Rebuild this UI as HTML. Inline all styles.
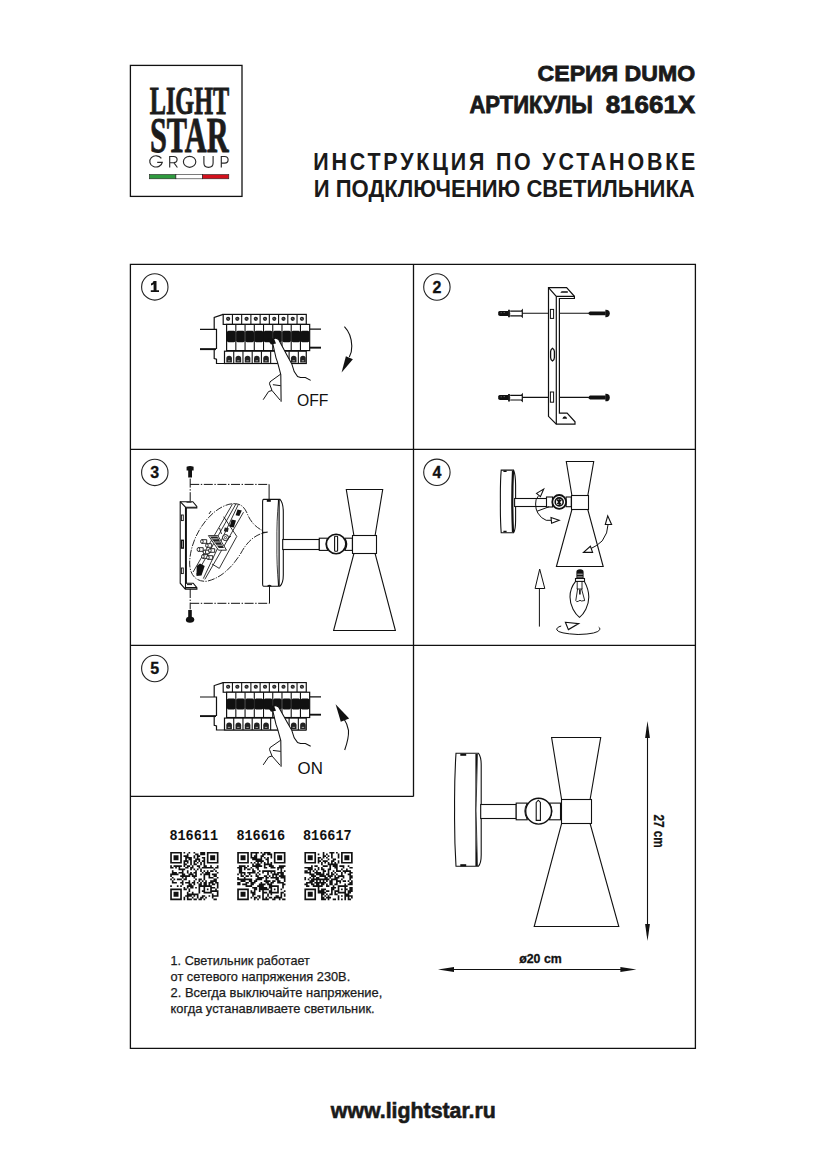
<!DOCTYPE html>
<html><head><meta charset="utf-8">
<style>
html,body{margin:0;padding:0;background:#fff;}
body{width:826px;height:1169px;position:relative;overflow:hidden;font-family:"Liberation Sans",sans-serif;}
svg{position:absolute;left:0;top:0;}

</style></head><body>
<svg width="826" height="1169" viewBox="0 0 826 1169">
<g fill="#1a1a1a" font-family="Liberation Sans" font-weight="bold">
<text x="695.1" y="81.4" font-size="22.6" stroke="#1a1a1a" stroke-width="0.8" text-anchor="end" textLength="157.5" lengthAdjust="spacingAndGlyphs">СЕРИЯ DUMO</text>
<text x="469.4" y="113.2" font-size="23" stroke="#1a1a1a" stroke-width="0.8" textLength="123.4" lengthAdjust="spacingAndGlyphs">АРТИКУЛЫ</text><text x="605.7" y="113.2" font-size="23" stroke="#1a1a1a" stroke-width="0.8" textLength="89.5" lengthAdjust="spacingAndGlyphs">81661X</text>
<text transform="translate(313.2 169.6) scale(0.9 1)" x="0" y="0" font-size="23.8" textLength="424.6" lengthAdjust="spacing">ИНСТРУКЦИЯ ПО УСТАНОВКЕ</text>
<text x="313.8" y="196.8" font-size="23.8" textLength="381" lengthAdjust="spacingAndGlyphs">И ПОДКЛЮЧЕНИЮ СВЕТИЛЬНИКА</text>
<text x="330.8" y="1117.7" font-size="21.6" stroke="#1a1a1a" stroke-width="0.6" textLength="165" lengthAdjust="spacingAndGlyphs">www.lightstar.ru</text>
</g>
<g fill="none" stroke="#111" stroke-width="1.3">
<rect x="130.4" y="65.4" width="111.6" height="131"/>
<path d="M130.4 264.4H695.4V1048.4H130.4Z"/>
<path d="M413.5 264.4V796.4M130.4 449.4H695.4M130.4 645.4H695.4M130.4 796.4H413.5"/>
</g>
<g fill="#1c1c1c">
<text x="149.8" y="114.2" font-family="Liberation Serif" font-weight="bold" font-size="39" textLength="79.4" lengthAdjust="spacingAndGlyphs" stroke="#1c1c1c" stroke-width="0.9">LIGHT</text>
<text x="150" y="151.5" font-family="Liberation Serif" font-weight="bold" font-size="51" textLength="78.5" lengthAdjust="spacingAndGlyphs" stroke="#1c1c1c" stroke-width="0.9">STAR</text>
<g fill="none" stroke="#2a2a2a" stroke-width="1.15"><path d="M161.4 158.4A6.3 5.6 0 1 0 162.3 162.3H157.2"/><path d="M169.7 167.5V156.5H173.6Q177.1 156.5 177.1 159.6Q177.1 162.7 173.6 162.7H169.7M173.8 162.7L177.4 167.5"/><ellipse cx="189.6" cy="161.8" rx="6.2" ry="5.5"/><path d="M203.9 156V163Q203.9 167.3 208.5 167.3Q213.1 167.3 213.1 163V156"/><path d="M221.3 167.5V156.5H224.6Q228.1 156.5 228.1 159.8Q228.1 163.1 224.6 163.1H221.3"/></g>
</g>
<rect x="149.4" y="174.5" width="26.5" height="4.3" fill="#2e9a3e" stroke="#222" stroke-width="0.6"/>
<rect x="175.9" y="174.5" width="26.5" height="4.3" fill="#fff" stroke="#222" stroke-width="0.6"/>
<rect x="202.4" y="174.5" width="26.4" height="4.3" fill="#d3101c" stroke="#222" stroke-width="0.6"/>
<circle cx="154.8" cy="286.9" r="13.2" fill="none" stroke="#222" stroke-width="1.1"/>
<path d="M153.60000000000002 281.09999999999997H156.5V290.2H159.0V292.0H150.8V290.2H153.60000000000002V284.29999999999995Q152.3 285.29999999999995 151.0 285.4V283.59999999999997Q152.8 283.09999999999997 153.60000000000002 281.09999999999997Z" fill="#111"/>
<circle cx="436.9" cy="287.0" r="13.2" fill="none" stroke="#222" stroke-width="1.1"/>
<text x="436.9" y="292.5" text-anchor="middle" font-family="Liberation Sans" font-weight="bold" font-size="16" fill="#111" stroke="#111" stroke-width="0.3">2</text>
<circle cx="154.8" cy="472.4" r="13.2" fill="none" stroke="#222" stroke-width="1.1"/>
<text x="154.8" y="477.9" text-anchor="middle" font-family="Liberation Sans" font-weight="bold" font-size="16" fill="#111" stroke="#111" stroke-width="0.3">3</text>
<circle cx="436.9" cy="472.3" r="13.2" fill="none" stroke="#222" stroke-width="1.1"/>
<text x="436.9" y="477.8" text-anchor="middle" font-family="Liberation Sans" font-weight="bold" font-size="16" fill="#111" stroke="#111" stroke-width="0.3">4</text>
<circle cx="154.8" cy="668.5" r="13.2" fill="none" stroke="#222" stroke-width="1.1"/>
<text x="154.8" y="674.0" text-anchor="middle" font-family="Liberation Sans" font-weight="bold" font-size="16" fill="#111" stroke="#111" stroke-width="0.3">5</text>
<g transform="translate(0,0) translate(0,314) scale(1,1.0) translate(0,-314)"><path d="M200 329.3H216.5V349.1M200 349.2H216" fill="none" stroke="#111" stroke-width="1.2"/><path d="M200 349.2H216" fill="none" stroke="#111" stroke-width="1.8"/><path d="M309.7 329.2H321M309.7 347.6H321" fill="none" stroke="#111" stroke-width="1.2"/><path d="M309.7 347.6H321" fill="none" stroke="#111" stroke-width="1.8"/><path d="M223.2 314.4L214.2 317.5V329.3M214.2 349.3V358.6L216.5 359.3V363.5H306" fill="none" stroke="#111" stroke-width="1.2"/><rect x="223.2" y="314.4" width="83.07" height="10" fill="#fff" stroke="#111" stroke-width="1.2"/><path d="M232.43 314.4V324.4" stroke="#111" stroke-width="1.1"/><path d="M241.66 314.4V324.4" stroke="#111" stroke-width="1.1"/><path d="M250.89 314.4V324.4" stroke="#111" stroke-width="1.1"/><path d="M260.12 314.4V324.4" stroke="#111" stroke-width="1.1"/><path d="M269.35 314.4V324.4" stroke="#111" stroke-width="1.1"/><path d="M278.58 314.4V324.4" stroke="#111" stroke-width="1.1"/><path d="M287.81 314.4V324.4" stroke="#111" stroke-width="1.1"/><path d="M297.04 314.4V324.4" stroke="#111" stroke-width="1.1"/><circle cx="228.12" cy="318.8" r="2.1" fill="#222"/><path d="M227.22 318.3L229.01 319.3" stroke="#bbb" stroke-width="0.6"/><circle cx="237.34" cy="318.8" r="2.1" fill="#222"/><path d="M236.44 318.3L238.24 319.3" stroke="#bbb" stroke-width="0.6"/><circle cx="246.58" cy="318.8" r="2.1" fill="#222"/><path d="M245.68 318.3L247.47 319.3" stroke="#bbb" stroke-width="0.6"/><circle cx="255.81" cy="318.8" r="2.1" fill="#222"/><path d="M254.91 318.3L256.70 319.3" stroke="#bbb" stroke-width="0.6"/><circle cx="265.04" cy="318.8" r="2.1" fill="#222"/><path d="M264.13 318.3L265.94 319.3" stroke="#bbb" stroke-width="0.6"/><circle cx="274.27" cy="318.8" r="2.1" fill="#222"/><path d="M273.37 318.3L275.17 319.3" stroke="#bbb" stroke-width="0.6"/><circle cx="283.50" cy="318.8" r="2.1" fill="#222"/><path d="M282.59 318.3L284.39 319.3" stroke="#bbb" stroke-width="0.6"/><circle cx="292.73" cy="318.8" r="2.1" fill="#222"/><path d="M291.82 318.3L293.62 319.3" stroke="#bbb" stroke-width="0.6"/><circle cx="301.95" cy="318.8" r="2.1" fill="#222"/><path d="M301.05 318.3L302.85 319.3" stroke="#bbb" stroke-width="0.6"/><rect x="226.6" y="324.4" width="83.07" height="26.2" fill="#fff" stroke="#111" stroke-width="1.2"/><path d="M235.83 324.4V350.6" stroke="#111" stroke-width="1.1"/><path d="M245.06 324.4V350.6" stroke="#111" stroke-width="1.1"/><path d="M254.29 324.4V350.6" stroke="#111" stroke-width="1.1"/><path d="M263.52 324.4V350.6" stroke="#111" stroke-width="1.1"/><path d="M272.75 324.4V350.6" stroke="#111" stroke-width="1.1"/><path d="M281.98 324.4V350.6" stroke="#111" stroke-width="1.1"/><path d="M291.21 324.4V350.6" stroke="#111" stroke-width="1.1"/><path d="M300.44 324.4V350.6" stroke="#111" stroke-width="1.1"/><rect x="226.90" y="330.8" width="8.63" height="11.4" rx="1.6" fill="#111"/><rect x="236.13" y="330.8" width="8.63" height="11.4" rx="1.6" fill="#111"/><rect x="245.36" y="330.8" width="8.63" height="11.4" rx="1.6" fill="#111"/><rect x="254.59" y="330.8" width="8.63" height="11.4" rx="1.6" fill="#111"/><rect x="263.82" y="330.8" width="8.63" height="11.4" rx="1.6" fill="#111"/><rect x="273.05" y="330.8" width="8.63" height="11.4" rx="1.6" fill="#111"/><rect x="282.28" y="330.8" width="8.63" height="11.4" rx="1.6" fill="#111"/><rect x="291.51" y="330.8" width="8.63" height="11.4" rx="1.6" fill="#111"/><rect x="300.74" y="330.8" width="8.63" height="11.4" rx="1.6" fill="#111"/><path d="M227 332.5L229 331.5V341L227 340Z" fill="#111"/><rect x="224.5" y="351.2" width="81.77" height="12.3" fill="#fff" stroke="#111" stroke-width="1.2"/><path d="M233.73 351.2V363.5" stroke="#111" stroke-width="1.1"/><path d="M242.96 351.2V363.5" stroke="#111" stroke-width="1.1"/><path d="M252.19 351.2V363.5" stroke="#111" stroke-width="1.1"/><path d="M261.42 351.2V363.5" stroke="#111" stroke-width="1.1"/><path d="M270.65 351.2V363.5" stroke="#111" stroke-width="1.1"/><path d="M279.88 351.2V363.5" stroke="#111" stroke-width="1.1"/><path d="M289.11 351.2V363.5" stroke="#111" stroke-width="1.1"/><path d="M298.34 351.2V363.5" stroke="#111" stroke-width="1.1"/><path d="M226.31 362.6V358.6A2.8 2.8 0 0 1 231.92 358.6V362.6Z" fill="#222"/><path d="M227.92 360.8H230.31" stroke="#fff" stroke-width="0.6"/><path d="M235.54 362.6V358.6A2.8 2.8 0 0 1 241.15 358.6V362.6Z" fill="#222"/><path d="M237.15 360.8H239.54" stroke="#fff" stroke-width="0.6"/><path d="M244.78 362.6V358.6A2.8 2.8 0 0 1 250.38 358.6V362.6Z" fill="#222"/><path d="M246.38 360.8H248.78" stroke="#fff" stroke-width="0.6"/><path d="M254.00 362.6V358.6A2.8 2.8 0 0 1 259.61 358.6V362.6Z" fill="#222"/><path d="M255.61 360.8H258.00" stroke="#fff" stroke-width="0.6"/><path d="M263.24 362.6V358.6A2.8 2.8 0 0 1 268.84 358.6V362.6Z" fill="#222"/><path d="M264.84 360.8H267.24" stroke="#fff" stroke-width="0.6"/><path d="M290.93 362.6V358.6A2.8 2.8 0 0 1 296.53 358.6V362.6Z" fill="#222"/><path d="M292.53 360.8H294.93" stroke="#fff" stroke-width="0.6"/><path d="M300.16 362.6V358.6A2.8 2.8 0 0 1 305.76 358.6V362.6Z" fill="#222"/><path d="M301.76 360.8H304.16" stroke="#fff" stroke-width="0.6"/><path d="M272.4 342.6Q272.5 338 276 338.3Q279.2 339 280.2 342.6L287 355.2L291.8 363.9L294.2 371.6L297.6 376.5L300.5 377.5H305.4L310.7 380.4L306 395L285 405L262 403L263 395L268.6 391.5L272 390.5L269.5 383.8L270 381.8L280.7 374.1L277.5 362.1L276 357.8L274.1 349.5Z" fill="#fff" stroke="none"/><path d="M267.6 339.5Q270 337.5 274 338.5L276 343.5L271 344.5Z" fill="#111"/><path d="M272.4 342.6Q272.5 338 276 338.3Q279.2 339 280.2 342.6L287 355.2L291.8 363.9L294.2 371.6L297.6 376.5L300.5 377.5H305.4L310.7 380.4" fill="none" stroke="#111" stroke-width="1.05"/><path d="M272.6 342.6L274.1 349.5L276 357.8L277.5 362.1L280.8 374.5L281.1 401.7" fill="none" stroke="#111" stroke-width="1.05"/><path d="M280.7 374.1L270 381.8L269.5 383.8L272 390.5L280.2 400.2M272 390.5L268.6 391.5L263.2 399.7M272.9 384.7L280.7 385.7" fill="none" stroke="#111" stroke-width="1.0"/></g>
<g transform="translate(0,368.2) translate(0,314) scale(1,0.965) translate(0,-314)"><path d="M200 329.3H216.5V349.1M200 349.2H216" fill="none" stroke="#111" stroke-width="1.2"/><path d="M200 349.2H216" fill="none" stroke="#111" stroke-width="1.8"/><path d="M309.7 329.2H321M309.7 347.6H321" fill="none" stroke="#111" stroke-width="1.2"/><path d="M309.7 347.6H321" fill="none" stroke="#111" stroke-width="1.8"/><path d="M223.2 314.4L214.2 317.5V329.3M214.2 349.3V358.6L216.5 359.3V363.5H306" fill="none" stroke="#111" stroke-width="1.2"/><rect x="223.2" y="314.4" width="83.07" height="10" fill="#fff" stroke="#111" stroke-width="1.2"/><path d="M232.43 314.4V324.4" stroke="#111" stroke-width="1.1"/><path d="M241.66 314.4V324.4" stroke="#111" stroke-width="1.1"/><path d="M250.89 314.4V324.4" stroke="#111" stroke-width="1.1"/><path d="M260.12 314.4V324.4" stroke="#111" stroke-width="1.1"/><path d="M269.35 314.4V324.4" stroke="#111" stroke-width="1.1"/><path d="M278.58 314.4V324.4" stroke="#111" stroke-width="1.1"/><path d="M287.81 314.4V324.4" stroke="#111" stroke-width="1.1"/><path d="M297.04 314.4V324.4" stroke="#111" stroke-width="1.1"/><circle cx="228.12" cy="318.8" r="2.1" fill="#222"/><path d="M227.22 318.3L229.01 319.3" stroke="#bbb" stroke-width="0.6"/><circle cx="237.34" cy="318.8" r="2.1" fill="#222"/><path d="M236.44 318.3L238.24 319.3" stroke="#bbb" stroke-width="0.6"/><circle cx="246.58" cy="318.8" r="2.1" fill="#222"/><path d="M245.68 318.3L247.47 319.3" stroke="#bbb" stroke-width="0.6"/><circle cx="255.81" cy="318.8" r="2.1" fill="#222"/><path d="M254.91 318.3L256.70 319.3" stroke="#bbb" stroke-width="0.6"/><circle cx="265.04" cy="318.8" r="2.1" fill="#222"/><path d="M264.13 318.3L265.94 319.3" stroke="#bbb" stroke-width="0.6"/><circle cx="274.27" cy="318.8" r="2.1" fill="#222"/><path d="M273.37 318.3L275.17 319.3" stroke="#bbb" stroke-width="0.6"/><circle cx="283.50" cy="318.8" r="2.1" fill="#222"/><path d="M282.59 318.3L284.39 319.3" stroke="#bbb" stroke-width="0.6"/><circle cx="292.73" cy="318.8" r="2.1" fill="#222"/><path d="M291.82 318.3L293.62 319.3" stroke="#bbb" stroke-width="0.6"/><circle cx="301.95" cy="318.8" r="2.1" fill="#222"/><path d="M301.05 318.3L302.85 319.3" stroke="#bbb" stroke-width="0.6"/><rect x="226.6" y="324.4" width="83.07" height="26.2" fill="#fff" stroke="#111" stroke-width="1.2"/><path d="M235.83 324.4V350.6" stroke="#111" stroke-width="1.1"/><path d="M245.06 324.4V350.6" stroke="#111" stroke-width="1.1"/><path d="M254.29 324.4V350.6" stroke="#111" stroke-width="1.1"/><path d="M263.52 324.4V350.6" stroke="#111" stroke-width="1.1"/><path d="M272.75 324.4V350.6" stroke="#111" stroke-width="1.1"/><path d="M281.98 324.4V350.6" stroke="#111" stroke-width="1.1"/><path d="M291.21 324.4V350.6" stroke="#111" stroke-width="1.1"/><path d="M300.44 324.4V350.6" stroke="#111" stroke-width="1.1"/><rect x="226.90" y="330.8" width="8.63" height="11.4" rx="1.6" fill="#111"/><rect x="236.13" y="330.8" width="8.63" height="11.4" rx="1.6" fill="#111"/><rect x="245.36" y="330.8" width="8.63" height="11.4" rx="1.6" fill="#111"/><rect x="254.59" y="330.8" width="8.63" height="11.4" rx="1.6" fill="#111"/><rect x="263.82" y="330.8" width="8.63" height="11.4" rx="1.6" fill="#111"/><rect x="273.05" y="330.8" width="8.63" height="11.4" rx="1.6" fill="#111"/><rect x="282.28" y="330.8" width="8.63" height="11.4" rx="1.6" fill="#111"/><rect x="291.51" y="330.8" width="8.63" height="11.4" rx="1.6" fill="#111"/><rect x="300.74" y="330.8" width="8.63" height="11.4" rx="1.6" fill="#111"/><path d="M227 332.5L229 331.5V341L227 340Z" fill="#111"/><rect x="224.5" y="351.2" width="81.77" height="12.3" fill="#fff" stroke="#111" stroke-width="1.2"/><path d="M233.73 351.2V363.5" stroke="#111" stroke-width="1.1"/><path d="M242.96 351.2V363.5" stroke="#111" stroke-width="1.1"/><path d="M252.19 351.2V363.5" stroke="#111" stroke-width="1.1"/><path d="M261.42 351.2V363.5" stroke="#111" stroke-width="1.1"/><path d="M270.65 351.2V363.5" stroke="#111" stroke-width="1.1"/><path d="M279.88 351.2V363.5" stroke="#111" stroke-width="1.1"/><path d="M289.11 351.2V363.5" stroke="#111" stroke-width="1.1"/><path d="M298.34 351.2V363.5" stroke="#111" stroke-width="1.1"/><path d="M226.31 362.6V358.6A2.8 2.8 0 0 1 231.92 358.6V362.6Z" fill="#222"/><path d="M227.92 360.8H230.31" stroke="#fff" stroke-width="0.6"/><path d="M235.54 362.6V358.6A2.8 2.8 0 0 1 241.15 358.6V362.6Z" fill="#222"/><path d="M237.15 360.8H239.54" stroke="#fff" stroke-width="0.6"/><path d="M244.78 362.6V358.6A2.8 2.8 0 0 1 250.38 358.6V362.6Z" fill="#222"/><path d="M246.38 360.8H248.78" stroke="#fff" stroke-width="0.6"/><path d="M254.00 362.6V358.6A2.8 2.8 0 0 1 259.61 358.6V362.6Z" fill="#222"/><path d="M255.61 360.8H258.00" stroke="#fff" stroke-width="0.6"/><path d="M263.24 362.6V358.6A2.8 2.8 0 0 1 268.84 358.6V362.6Z" fill="#222"/><path d="M264.84 360.8H267.24" stroke="#fff" stroke-width="0.6"/><path d="M290.93 362.6V358.6A2.8 2.8 0 0 1 296.53 358.6V362.6Z" fill="#222"/><path d="M292.53 360.8H294.93" stroke="#fff" stroke-width="0.6"/><path d="M300.16 362.6V358.6A2.8 2.8 0 0 1 305.76 358.6V362.6Z" fill="#222"/><path d="M301.76 360.8H304.16" stroke="#fff" stroke-width="0.6"/><path d="M272.4 342.6Q272.5 338 276 338.3Q279.2 339 280.2 342.6L287 355.2L291.8 363.9L294.2 371.6L297.6 376.5L300.5 377.5H305.4L310.7 380.4L306 395L285 405L262 403L263 395L268.6 391.5L272 390.5L269.5 383.8L270 381.8L280.7 374.1L277.5 362.1L276 357.8L274.1 349.5Z" fill="#fff" stroke="none"/><path d="M267.6 339.5Q270 337.5 274 338.5L276 343.5L271 344.5Z" fill="#111"/><path d="M272.4 342.6Q272.5 338 276 338.3Q279.2 339 280.2 342.6L287 355.2L291.8 363.9L294.2 371.6L297.6 376.5L300.5 377.5H305.4L310.7 380.4" fill="none" stroke="#111" stroke-width="1.05"/><path d="M272.6 342.6L274.1 349.5L276 357.8L277.5 362.1L280.8 374.5L281.1 401.7" fill="none" stroke="#111" stroke-width="1.05"/><path d="M280.7 374.1L270 381.8L269.5 383.8L272 390.5L280.2 400.2M272 390.5L268.6 391.5L263.2 399.7M272.9 384.7L280.7 385.7" fill="none" stroke="#111" stroke-width="1.0"/></g>
<path d="M344.4 326.7Q351.5 334 351.8 346Q352 352 349.3 357" fill="none" stroke="#111" stroke-width="1.1"/>
<path d="M345.9 356.2L352.9 359.3L341.6 372.6Z" fill="#111"/>
<text x="297" y="406" font-family="Liberation Sans" font-size="16.8" fill="#111" textLength="31.5" lengthAdjust="spacingAndGlyphs">OFF</text>
<path d="M344.7 750Q349 738 348.5 730.4Q347.5 724 344 719" fill="none" stroke="#111" stroke-width="1.1"/>
<path d="M340.8 721.8L349.2 718.6L335.6 704.2Z" fill="#111"/>
<text x="297.6" y="774" font-family="Liberation Sans" font-size="16.8" fill="#111" textLength="25.3" lengthAdjust="spacingAndGlyphs">ON</text>
<path d="M522 313.3H548.5M559.4 313.3H588" stroke="#111" stroke-width="1.1"/><path d="M498.2 312.1Q498.6 310.90000000000003 500 310.90000000000003H508.5V315.90000000000003H500Q498.2 315.90000000000003 498.2 314.5Z" fill="#111"/><path d="M500.5 312.7H502M503.5 312.5H505" stroke="#888" stroke-width="0.6"/><path d="M509 309.8V317.3" stroke="#111" stroke-width="1.8"/><path d="M510 312.7H511.6V314.7H510Z" fill="#111"/><path d="M510.2 311.2H521.3L522.3 310.1V316.90000000000003L521.3 315.90000000000003H510.2" fill="#fff" stroke="#111" stroke-width="1.2"/><path d="M587.6 313.3L590 311.5H605.7V315.3H590Z" fill="#111"/><path d="M605.4 309.7Q609.8 309.5 609.8 313.3Q609.8 317.3 605.4 317.2Z" fill="#111"/>
<path d="M522 397.4H548.5M559.4 397.4H588" stroke="#111" stroke-width="1.1"/><path d="M498.2 396.2Q498.6 395.0 500 395.0H508.5V400.0H500Q498.2 400.0 498.2 398.59999999999997Z" fill="#111"/><path d="M500.5 396.79999999999995H502M503.5 396.59999999999997H505" stroke="#888" stroke-width="0.6"/><path d="M509 393.9V401.4" stroke="#111" stroke-width="1.8"/><path d="M510 396.79999999999995H511.6V398.79999999999995H510Z" fill="#111"/><path d="M510.2 395.29999999999995H521.3L522.3 394.2V401.0L521.3 400.0H510.2" fill="#fff" stroke="#111" stroke-width="1.2"/><path d="M587.6 397.4L590 395.59999999999997H605.7V399.4H590Z" fill="#111"/><path d="M605.4 393.79999999999995Q609.8 393.59999999999997 609.8 397.4Q609.8 401.4 605.4 401.29999999999995Z" fill="#111"/>
<g fill="none" stroke="#111" stroke-width="1.2">
<path d="M548.5 287.6H566.6L574.4 296.3V298.5H559.4V413.2H567.1L575 421.8V424.2H556.3L548.5 416.3Z"/>
<path d="M548.5 287.6L556.3 296.3H574.4M556.3 296.3V424.2"/>
<rect x="550.4" y="309.4" width="3.2" height="9" stroke-width="1"/>
<rect x="550.4" y="392" width="3.2" height="10.2" stroke-width="1"/>
<path d="M552.5 348.2Q554.4 349.5 554.4 351.5V357.6Q554.4 359.8 552.5 361Q550.6 359.8 550.6 357.6V351.5Q550.6 349.5 552.5 348.2Z" stroke-width="1.3"/>
</g>
<path d="M560.3 292.7L561.6 291.2H567.8V292.7Z" fill="#111"/>
<path d="M562.4 418.7Q562.8 416.2 564.8 416.2Q566.8 416.2 567.1 418.7Z" fill="#111"/>
<g fill="none" stroke="#111" stroke-width="1.1">
<path d="M180.2 501.7H192.8L196.8 506.4V508H186V583.2H193.2L196.9 587.6V589.1H185.3L180.2 583.2Z"/>
<path d="M180.2 501.7L185.5 507.2H196.8M185.5 507.2V589.1M185.3 589.1V587.6H196.9" />
<path d="M186 508V583.2" stroke-width="1.6"/>
<rect x="181.4" y="515" width="1.9" height="5.6" stroke-width="0.9"/>
<rect x="181.4" y="540.3" width="1.9" height="7.8" stroke-width="1.4"/>
<rect x="181.4" y="568" width="1.9" height="5.6" stroke-width="0.9"/>
<path d="M190.2 478.6V502.5M190.2 484.4H269.1M190.2 589V609.4M190.2 603.3H269.5" stroke-width="1" stroke-dasharray="9 1.6 1.4 1.6"/>
<path d="M269.1 484.4V500M269.5 603.3V586" stroke-width="1"/>
</g>
<path d="M186.6 466.8Q190 465 193.6 466.8V470.4H192V477.4H188.2V470.4H186.6Z" fill="#111"/>
<path d="M188.2 610.1H191.8V616.8Q194.4 617.5 194.4 619.8Q194 622.6 190 622.8Q185.8 622.6 185.8 619.8Q186 617.5 188.2 616.8Z" fill="#111"/>
<path d="M186.5 502.3H191.5" stroke="#111" stroke-width="0.8"/><path d="M187 584.6H192" stroke="#111" stroke-width="1"/>
<path d="M233.3 503.7C242 503.5 244.5 508 247 513C250 521 256 529 267.2 532.3C257 533.5 248 540 241 553C233 566 222 578 206.6 581.3C194 582 188 572 190 557.6C192 538 205 516 222 507C226 505 229.5 503.8 233.3 503.7Z" fill="#fff" stroke="#111" stroke-width="0.9" stroke-dasharray="7 1.3 1.2 1.3"/>
<g fill="none" stroke="#111" stroke-width="0.85">
<path d="M232.4 504.2L193.1 572M236 503.8L196.5 574.4M238.4 504.3L203.3 578.6M243.5 512.2L204.8 579.4"/>
<path d="M223.6 516.7L236.8 536.4L219.3 568.4L212 564"/>
<path d="M208.4 535.6H217.8L226.5 550.2H218.5Z" fill="#fff"/>
</g>
<path d="M237.5 509.5L241.8 510.5L239.3 516L235.6 515.2Z" fill="#111"/>
<path d="M231.6 519.6L236 520.5L233.8 527.6L229.6 526.8Z" fill="#111"/>
<path d="M224.8 527.6L228.7 528.3L227.8 532L223.8 531.3Z" fill="#222"/>
<path d="M210 536.5L217.3 536.5L224 548L218.8 548Z" fill="#222"/>
<path d="M212.3 538.8H217.8M214.6 542H220M216.6 545.2H222" stroke="#eee" stroke-width="0.8"/>
<path d="M196.7 566L200 563.5L204.7 566L201.5 575.5L196.5 576Z" fill="#111"/>
<circle cx="225.5" cy="537.6" r="3" fill="#fff" stroke="#111" stroke-width="1"/><circle cx="225.5" cy="537.6" r="1.1" fill="none" stroke="#111" stroke-width="0.7"/>
<path d="M201.9 539.7H206.7V543.3H201.9Z" fill="#fff" stroke="#111" stroke-width="0.9"/>
<ellipse cx="201.9" cy="541.5" rx="1.3" ry="1.8" fill="#fff" stroke="#111" stroke-width="0.9"/>
<path d="M198.4 547.7H203.2V551.3H198.4Z" fill="#fff" stroke="#111" stroke-width="0.9"/>
<ellipse cx="198.4" cy="549.5" rx="1.3" ry="1.8" fill="#fff" stroke="#111" stroke-width="0.9"/>
<path d="M206.9 543.7H211.7V547.3H206.9Z" fill="#fff" stroke="#111" stroke-width="0.9"/>
<ellipse cx="206.9" cy="545.5" rx="1.3" ry="1.8" fill="#fff" stroke="#111" stroke-width="0.9"/>
<path d="M204.4 550.2H209.2V553.8H204.4Z" fill="#fff" stroke="#111" stroke-width="0.9"/>
<ellipse cx="204.4" cy="552" rx="1.3" ry="1.8" fill="#fff" stroke="#111" stroke-width="0.9"/>
<path d="M209.9 548.7H214.7V552.3H209.9Z" fill="#fff" stroke="#111" stroke-width="0.9"/>
<ellipse cx="209.9" cy="550.5" rx="1.3" ry="1.8" fill="#fff" stroke="#111" stroke-width="0.9"/>
<path d="M202.9 554.7H207.7V558.3H202.9Z" fill="#fff" stroke="#111" stroke-width="0.9"/>
<ellipse cx="202.9" cy="556.5" rx="1.3" ry="1.8" fill="#fff" stroke="#111" stroke-width="0.9"/>
<path d="M207.9 555.7H212.7V559.3H207.9Z" fill="#fff" stroke="#111" stroke-width="0.9"/>
<ellipse cx="207.9" cy="557.5" rx="1.3" ry="1.8" fill="#fff" stroke="#111" stroke-width="0.9"/>
<path d="M219.5 528L221.5 534M227 539.5L231 536M209 514L211 511" stroke="#111" stroke-width="0.9"/>
<g fill="#fff" stroke="#111" stroke-width="1.1">
<path d="M263.5 499.4H280Q283.3 503 283.3 512V575Q283.3 583 280 586.2H263.5Q262.6 586 262.6 584V501.5Q262.6 499.6 263.5 499.4Z"/>
<path d="M278.8 500V586" stroke-width="1.8"/>
<path d="M278.5 502Q276.6 520 276.9 543Q276.6 566 278.5 584" stroke-width="0.8"/>
<rect x="282.7" y="539.5" width="36.6" height="10"/>
<rect x="319.3" y="538.2" width="8.6" height="12.2"/>
<rect x="344.8" y="538.2" width="7.6" height="12.2"/>
<path d="M327.6 538.6Q324.6 544.2 327.6 549.8M345 538.6Q348.4 544.2 345 549.8" stroke-width="1.3"/>
<circle cx="336.1" cy="544" r="9.7" stroke-width="1.5"/>
<rect x="334.6" y="536.3" width="3" height="15" rx="0.8"/>
<path d="M346.3 489.5H382.7L375.1 535.5H353.9Z"/>
<path d="M353.9 553.5H375.1L395.4 630.5H333.6Z"/>
<rect x="352.5" y="535.5" width="24" height="18"/>
</g>
<path d="M262.6 532.3L267.6 532.1L262.6 533.2Z" fill="#111" stroke="#111" stroke-width="0.7"/>
<rect x="266.8" y="499.4" width="4" height="2.4" fill="#111"/>
<path d="M267.4 585.6Q269.4 584 271.4 585.6V586.6H267.4Z" fill="#111"/>
<g fill="#fff" stroke="#111" stroke-width="1.1">
<path d="M501.2 470.1H513.6Q515.6 475 515.6 485V520Q515.6 530 513.6 532.7H501.2Q500.2 520 500.4 501Q500.2 482 501.2 470.1Z"/>
<path d="M513 470.8Q511.6 501 513 532.2" stroke-width="2.2"/>
<path d="M503.4 470.5H506.6V472H503.4ZM503.4 530.8H506.6V532.3H503.4Z" fill="#111" stroke="none"/>
<rect x="514.6" y="498.5" width="32" height="8"/>
<rect x="546.5" y="497" width="6" height="10"/>
<rect x="566.1" y="497" width="5.2" height="9.7"/>
<circle cx="559.2" cy="501.9" r="6.9" stroke-width="1.8"/>
<circle cx="559.2" cy="501.9" r="4" stroke-width="1.6"/>
<path d="M566.3 461.5H593.7L587.8 495.5H571.9Z"/>
<path d="M571.9 509.5H587.8L603.2 566.5H556.4Z"/>
<rect x="571.5" y="495.5" width="17" height="14"/>
</g>
<path d="M557 499.5L561 504.5M561.5 499.5L557.3 504M559.2 498.5V505.3" stroke="#111" stroke-width="1.3"/>
<g fill="none" stroke="#111" stroke-width="1.0">
<path d="M538.3 496.1Q535.2 499.5 535.6 504Q535.6 509.5 537.8 513Q541 518.5 546.2 520.3H552.2"/>
<path d="M537.1 511.2L549.2 506.7"/>
<path d="M536.5 493.4L543.7 489.1L540.4 496.7Z" fill="#fff" stroke-width="1.1"/>
<path d="M551 517.6L559.2 520.2L551.6 523.3Z" fill="#fff" stroke-width="1.1"/>
<path d="M608 524.8Q608 533 602.2 540.9Q597 546 590.7 548.7"/>
<path d="M607.7 515.8L605.3 524.5H611.6Z" fill="#fff" stroke-width="1.1"/>
<path d="M583.5 552.4L590.4 546.3L592.6 552.4Z" fill="#fff" stroke-width="1.1"/>
<path d="M539.4 588.5V626.6"/>
<path d="M535.1 588.5H544.8L539.7 569.1Z" fill="#fff"/>
<path d="M575.6 581.4C571 587 570 592 570 597C570 606 575 614 579.5 617.4C584 614 588.8 606 588.8 597C588.8 592 587.5 587 584.4 581.4" fill="#fff" stroke-width="1.05"/>
<path d="M576.4 578.2V572Q576.4 569.2 580 569.2Q583.6 569.2 583.6 572V578.2Z" fill="#111" stroke="none"/>
<path d="M577.3 574.2H582.7M577.3 576.9H582.7" stroke="#fff" stroke-width="0.7"/>
<rect x="575.5" y="578.5" width="9" height="2.9" fill="#fff" stroke-width="1.1"/>
<path d="M577.2 581.4V589M582 581.4V589M576.8 589H582.4M577.6 589L575.8 600.5M581.6 589L584.6 600.2M575.8 600.5Q576.5 602.5 578.5 601.2Q580 599.5 581.5 601M581.5 601L585 600.5" stroke-width="0.9"/>
<path d="M579.1 589.6H580.7V594.5H579.1Z" fill="#111" stroke="none"/>
<path d="M561.2 626Q556 627.5 556.9 630Q558.5 633.5 578.1 634.5Q598 634 599.9 629.5Q600.2 628 598.7 627.2"/>
<path d="M565.4 622.3L578.7 623.6L568.4 629.6Z" fill="#fff" stroke-width="1.1"/>
</g>
<g fill="#fff" stroke="#111" stroke-width="1.1">
<path d="M456 753.3H478.5Q481.2 757 481.2 765V855Q481.2 863 478.5 866.2H456Q454.3 840 454.6 810Q454.3 780 456 753.3Z"/>
<path d="M476.2 754V866" stroke-width="1.6"/>
<path d="M477.5 754Q474.5 810 477.5 866" stroke-width="0.8"/>
<rect x="480.7" y="804.5" width="35.5" height="14"/>
<rect x="516.2" y="803.1" width="11" height="16.7"/>
<rect x="549.6" y="803.1" width="10.9" height="16.7"/>
<path d="M527.1 803.4Q522.6 811 527.1 819M549.6 803.4Q554.3 811 549.6 819" stroke-width="1"/>
<circle cx="538.6" cy="811.2" r="12.9" stroke-width="1.4"/>
<path d="M536.2 802.5L538.3 800.2L540.4 802.5V820.4H536.2Z"/>
<path d="M551.6 737.5H600.7L590.1 799.5H561.6Z"/>
<path d="M561.6 823.5H590.1L618.8 926.5H534.2Z"/>
<rect x="561.5" y="799.5" width="30" height="24"/>
</g>
<path d="M460.3 753.6H466.2V755.8H460.3Z" fill="#111"/><path d="M460.3 864.2H466.2V866.4H460.3Z" fill="#111"/>
<path d="M647.5 727V936" stroke="#111" stroke-width="1.1"/>
<path d="M647.5 721.1L649.9 738H645.1Z" fill="#111"/><path d="M647.5 941.1L649.9 924H645.1Z" fill="#111"/>
<path d="M443 969.5H631" stroke="#111" stroke-width="1.1"/>
<path d="M438 969.5L454 967V972Z" fill="#111"/><path d="M636.4 969.5L620.4 967V972Z" fill="#111"/>
<text x="519.2" y="963.2" font-family="Liberation Sans" font-weight="bold" font-size="13.6" textLength="42.6" lengthAdjust="spacingAndGlyphs" fill="#111" stroke="#111" stroke-width="0.3">ø20 cm</text>
<text transform="translate(653.6,814.4) rotate(90)" x="0" y="0" font-family="Liberation Sans" font-weight="bold" font-size="14" stroke="#111" stroke-width="0.3" textLength="33.4" lengthAdjust="spacingAndGlyphs" fill="#111">27 cm</text>
<path d="M170.20 851.90h11.66v1.67h-11.66zM183.52 851.90h1.67v1.67h-1.67zM188.52 851.90h1.67v1.67h-1.67zM193.52 851.90h1.67v1.67h-1.67zM200.18 851.90h5.00v1.67h-5.00zM206.84 851.90h11.66v1.67h-11.66zM170.20 853.57h1.67v1.67h-1.67zM180.19 853.57h1.67v1.67h-1.67zM186.86 853.57h1.67v1.67h-1.67zM195.18 853.57h3.33v1.67h-3.33zM200.18 853.57h5.00v1.67h-5.00zM206.84 853.57h1.67v1.67h-1.67zM216.83 853.57h1.67v1.67h-1.67zM170.20 855.23h1.67v1.67h-1.67zM173.53 855.23h5.00v1.67h-5.00zM180.19 855.23h1.67v1.67h-1.67zM183.52 855.23h5.00v1.67h-5.00zM193.52 855.23h1.67v1.67h-1.67zM196.85 855.23h3.33v1.67h-3.33zM206.84 855.23h1.67v1.67h-1.67zM210.17 855.23h5.00v1.67h-5.00zM216.83 855.23h1.67v1.67h-1.67zM170.20 856.90h1.67v1.67h-1.67zM173.53 856.90h5.00v1.67h-5.00zM180.19 856.90h1.67v1.67h-1.67zM185.19 856.90h6.66v1.67h-6.66zM193.52 856.90h1.67v1.67h-1.67zM196.85 856.90h1.67v1.67h-1.67zM201.84 856.90h3.33v1.67h-3.33zM206.84 856.90h1.67v1.67h-1.67zM210.17 856.90h5.00v1.67h-5.00zM216.83 856.90h1.67v1.67h-1.67zM170.20 858.56h1.67v1.67h-1.67zM173.53 858.56h5.00v1.67h-5.00zM180.19 858.56h1.67v1.67h-1.67zM185.19 858.56h1.67v1.67h-1.67zM188.52 858.56h3.33v1.67h-3.33zM195.18 858.56h5.00v1.67h-5.00zM203.51 858.56h1.67v1.67h-1.67zM206.84 858.56h1.67v1.67h-1.67zM210.17 858.56h5.00v1.67h-5.00zM216.83 858.56h1.67v1.67h-1.67zM170.20 860.23h1.67v1.67h-1.67zM180.19 860.23h1.67v1.67h-1.67zM183.52 860.23h5.00v1.67h-5.00zM190.19 860.23h1.67v1.67h-1.67zM193.52 860.23h3.33v1.67h-3.33zM198.51 860.23h1.67v1.67h-1.67zM201.84 860.23h3.33v1.67h-3.33zM206.84 860.23h1.67v1.67h-1.67zM216.83 860.23h1.67v1.67h-1.67zM170.20 861.89h11.66v1.67h-11.66zM183.52 861.89h1.67v1.67h-1.67zM186.86 861.89h1.67v1.67h-1.67zM190.19 861.89h1.67v1.67h-1.67zM193.52 861.89h1.67v1.67h-1.67zM196.85 861.89h1.67v1.67h-1.67zM200.18 861.89h1.67v1.67h-1.67zM203.51 861.89h1.67v1.67h-1.67zM206.84 861.89h11.66v1.67h-11.66zM183.52 863.56h3.33v1.67h-3.33zM190.19 863.56h1.67v1.67h-1.67zM193.52 863.56h3.33v1.67h-3.33zM200.18 863.56h1.67v1.67h-1.67zM203.51 863.56h1.67v1.67h-1.67zM170.20 865.22h1.67v1.67h-1.67zM173.53 865.22h8.33v1.67h-8.33zM183.52 865.22h1.67v1.67h-1.67zM186.86 865.22h3.33v1.67h-3.33zM191.85 865.22h1.67v1.67h-1.67zM196.85 865.22h3.33v1.67h-3.33zM203.51 865.22h3.33v1.67h-3.33zM210.17 865.22h1.67v1.67h-1.67zM216.83 865.22h1.67v1.67h-1.67zM170.20 866.89h3.33v1.67h-3.33zM175.20 866.89h1.67v1.67h-1.67zM178.53 866.89h1.67v1.67h-1.67zM185.19 866.89h3.33v1.67h-3.33zM190.19 866.89h3.33v1.67h-3.33zM198.51 866.89h1.67v1.67h-1.67zM201.84 866.89h11.66v1.67h-11.66zM215.17 866.89h3.33v1.67h-3.33zM178.53 868.56h6.66v1.67h-6.66zM190.19 868.56h1.67v1.67h-1.67zM193.52 868.56h1.67v1.67h-1.67zM196.85 868.56h1.67v1.67h-1.67zM200.18 868.56h1.67v1.67h-1.67zM213.50 868.56h1.67v1.67h-1.67zM171.87 870.22h1.67v1.67h-1.67zM181.86 870.22h1.67v1.67h-1.67zM186.86 870.22h1.67v1.67h-1.67zM195.18 870.22h1.67v1.67h-1.67zM200.18 870.22h1.67v1.67h-1.67zM203.51 870.22h1.67v1.67h-1.67zM206.84 870.22h1.67v1.67h-1.67zM210.17 870.22h3.33v1.67h-3.33zM215.17 870.22h1.67v1.67h-1.67zM171.87 871.89h5.00v1.67h-5.00zM178.53 871.89h5.00v1.67h-5.00zM186.86 871.89h1.67v1.67h-1.67zM190.19 871.89h1.67v1.67h-1.67zM193.52 871.89h3.33v1.67h-3.33zM201.84 871.89h1.67v1.67h-1.67zM205.18 871.89h5.00v1.67h-5.00zM216.83 871.89h1.67v1.67h-1.67zM170.20 873.55h8.33v1.67h-8.33zM181.86 873.55h3.33v1.67h-3.33zM188.52 873.55h5.00v1.67h-5.00zM195.18 873.55h1.67v1.67h-1.67zM200.18 873.55h1.67v1.67h-1.67zM203.51 873.55h6.66v1.67h-6.66zM211.84 873.55h5.00v1.67h-5.00zM170.20 875.22h1.67v1.67h-1.67zM180.19 875.22h9.99v1.67h-9.99zM191.85 875.22h5.00v1.67h-5.00zM203.51 875.22h1.67v1.67h-1.67zM208.51 875.22h1.67v1.67h-1.67zM213.50 875.22h3.33v1.67h-3.33zM171.87 876.88h1.67v1.67h-1.67zM181.86 876.88h1.67v1.67h-1.67zM185.19 876.88h1.67v1.67h-1.67zM193.52 876.88h1.67v1.67h-1.67zM203.51 876.88h1.67v1.67h-1.67zM208.51 876.88h5.00v1.67h-5.00zM216.83 876.88h1.67v1.67h-1.67zM170.20 878.55h1.67v1.67h-1.67zM173.53 878.55h1.67v1.67h-1.67zM176.86 878.55h5.00v1.67h-5.00zM183.52 878.55h3.33v1.67h-3.33zM195.18 878.55h1.67v1.67h-1.67zM198.51 878.55h3.33v1.67h-3.33zM203.51 878.55h1.67v1.67h-1.67zM213.50 878.55h3.33v1.67h-3.33zM171.87 880.21h1.67v1.67h-1.67zM181.86 880.21h1.67v1.67h-1.67zM188.52 880.21h1.67v1.67h-1.67zM193.52 880.21h1.67v1.67h-1.67zM198.51 880.21h1.67v1.67h-1.67zM201.84 880.21h1.67v1.67h-1.67zM205.18 880.21h1.67v1.67h-1.67zM210.17 880.21h6.66v1.67h-6.66zM171.87 881.88h5.00v1.67h-5.00zM180.19 881.88h3.33v1.67h-3.33zM185.19 881.88h5.00v1.67h-5.00zM191.85 881.88h3.33v1.67h-3.33zM196.85 881.88h1.67v1.67h-1.67zM200.18 881.88h1.67v1.67h-1.67zM203.51 881.88h3.33v1.67h-3.33zM208.51 881.88h5.00v1.67h-5.00zM215.17 881.88h3.33v1.67h-3.33zM181.86 883.54h1.67v1.67h-1.67zM188.52 883.54h3.33v1.67h-3.33zM193.52 883.54h1.67v1.67h-1.67zM198.51 883.54h3.33v1.67h-3.33zM203.51 883.54h3.33v1.67h-3.33zM208.51 883.54h1.67v1.67h-1.67zM211.84 883.54h3.33v1.67h-3.33zM216.83 883.54h1.67v1.67h-1.67zM170.20 885.21h1.67v1.67h-1.67zM176.86 885.21h1.67v1.67h-1.67zM180.19 885.21h1.67v1.67h-1.67zM186.86 885.21h6.66v1.67h-6.66zM198.51 885.21h13.32v1.67h-13.32zM216.83 885.21h1.67v1.67h-1.67zM183.52 886.88h1.67v1.67h-1.67zM186.86 886.88h1.67v1.67h-1.67zM190.19 886.88h3.33v1.67h-3.33zM195.18 886.88h1.67v1.67h-1.67zM198.51 886.88h1.67v1.67h-1.67zM203.51 886.88h1.67v1.67h-1.67zM210.17 886.88h5.00v1.67h-5.00zM216.83 886.88h1.67v1.67h-1.67zM170.20 888.54h11.66v1.67h-11.66zM183.52 888.54h3.33v1.67h-3.33zM188.52 888.54h1.67v1.67h-1.67zM198.51 888.54h1.67v1.67h-1.67zM203.51 888.54h1.67v1.67h-1.67zM206.84 888.54h1.67v1.67h-1.67zM210.17 888.54h1.67v1.67h-1.67zM215.17 888.54h1.67v1.67h-1.67zM170.20 890.21h1.67v1.67h-1.67zM180.19 890.21h1.67v1.67h-1.67zM188.52 890.21h1.67v1.67h-1.67zM198.51 890.21h1.67v1.67h-1.67zM201.84 890.21h3.33v1.67h-3.33zM210.17 890.21h8.33v1.67h-8.33zM170.20 891.87h1.67v1.67h-1.67zM173.53 891.87h5.00v1.67h-5.00zM180.19 891.87h1.67v1.67h-1.67zM186.86 891.87h1.67v1.67h-1.67zM191.85 891.87h1.67v1.67h-1.67zM198.51 891.87h1.67v1.67h-1.67zM203.51 891.87h8.33v1.67h-8.33zM216.83 891.87h1.67v1.67h-1.67zM170.20 893.54h1.67v1.67h-1.67zM173.53 893.54h5.00v1.67h-5.00zM180.19 893.54h1.67v1.67h-1.67zM186.86 893.54h11.66v1.67h-11.66zM211.84 893.54h1.67v1.67h-1.67zM216.83 893.54h1.67v1.67h-1.67zM170.20 895.20h1.67v1.67h-1.67zM173.53 895.20h5.00v1.67h-5.00zM180.19 895.20h1.67v1.67h-1.67zM185.19 895.20h6.66v1.67h-6.66zM193.52 895.20h1.67v1.67h-1.67zM196.85 895.20h1.67v1.67h-1.67zM201.84 895.20h3.33v1.67h-3.33zM208.51 895.20h1.67v1.67h-1.67zM211.84 895.20h6.66v1.67h-6.66zM170.20 896.87h1.67v1.67h-1.67zM180.19 896.87h1.67v1.67h-1.67zM183.52 896.87h1.67v1.67h-1.67zM186.86 896.87h1.67v1.67h-1.67zM191.85 896.87h1.67v1.67h-1.67zM196.85 896.87h1.67v1.67h-1.67zM200.18 896.87h3.33v1.67h-3.33zM205.18 896.87h1.67v1.67h-1.67zM211.84 896.87h1.67v1.67h-1.67zM170.20 898.53h11.66v1.67h-11.66zM183.52 898.53h1.67v1.67h-1.67zM186.86 898.53h5.00v1.67h-5.00zM193.52 898.53h3.33v1.67h-3.33zM198.51 898.53h3.33v1.67h-3.33zM203.51 898.53h1.67v1.67h-1.67zM213.50 898.53h3.33v1.67h-3.33z" fill="#111"/>
<path d="M237.20 851.90h11.66v1.67h-11.66zM250.52 851.90h8.33v1.67h-8.33zM260.52 851.90h1.67v1.67h-1.67zM263.85 851.90h6.66v1.67h-6.66zM273.84 851.90h11.66v1.67h-11.66zM237.20 853.57h1.67v1.67h-1.67zM247.19 853.57h1.67v1.67h-1.67zM250.52 853.57h1.67v1.67h-1.67zM255.52 853.57h1.67v1.67h-1.67zM262.18 853.57h3.33v1.67h-3.33zM267.18 853.57h5.00v1.67h-5.00zM273.84 853.57h1.67v1.67h-1.67zM283.83 853.57h1.67v1.67h-1.67zM237.20 855.23h1.67v1.67h-1.67zM240.53 855.23h5.00v1.67h-5.00zM247.19 855.23h1.67v1.67h-1.67zM250.52 855.23h1.67v1.67h-1.67zM253.86 855.23h3.33v1.67h-3.33zM260.52 855.23h3.33v1.67h-3.33zM270.51 855.23h1.67v1.67h-1.67zM273.84 855.23h1.67v1.67h-1.67zM277.17 855.23h5.00v1.67h-5.00zM283.83 855.23h1.67v1.67h-1.67zM237.20 856.90h1.67v1.67h-1.67zM240.53 856.90h5.00v1.67h-5.00zM247.19 856.90h1.67v1.67h-1.67zM250.52 856.90h6.66v1.67h-6.66zM260.52 856.90h1.67v1.67h-1.67zM263.85 856.90h1.67v1.67h-1.67zM267.18 856.90h1.67v1.67h-1.67zM270.51 856.90h1.67v1.67h-1.67zM273.84 856.90h1.67v1.67h-1.67zM277.17 856.90h5.00v1.67h-5.00zM283.83 856.90h1.67v1.67h-1.67zM237.20 858.56h1.67v1.67h-1.67zM240.53 858.56h5.00v1.67h-5.00zM247.19 858.56h1.67v1.67h-1.67zM252.19 858.56h9.99v1.67h-9.99zM265.51 858.56h3.33v1.67h-3.33zM273.84 858.56h1.67v1.67h-1.67zM277.17 858.56h5.00v1.67h-5.00zM283.83 858.56h1.67v1.67h-1.67zM237.20 860.23h1.67v1.67h-1.67zM247.19 860.23h1.67v1.67h-1.67zM255.52 860.23h8.33v1.67h-8.33zM267.18 860.23h1.67v1.67h-1.67zM273.84 860.23h1.67v1.67h-1.67zM283.83 860.23h1.67v1.67h-1.67zM237.20 861.89h11.66v1.67h-11.66zM250.52 861.89h1.67v1.67h-1.67zM253.86 861.89h1.67v1.67h-1.67zM257.19 861.89h1.67v1.67h-1.67zM260.52 861.89h1.67v1.67h-1.67zM263.85 861.89h1.67v1.67h-1.67zM267.18 861.89h1.67v1.67h-1.67zM270.51 861.89h1.67v1.67h-1.67zM273.84 861.89h11.66v1.67h-11.66zM252.19 863.56h1.67v1.67h-1.67zM255.52 863.56h5.00v1.67h-5.00zM263.85 863.56h8.33v1.67h-8.33zM238.87 865.22h6.66v1.67h-6.66zM247.19 865.22h1.67v1.67h-1.67zM252.19 865.22h9.99v1.67h-9.99zM263.85 865.22h1.67v1.67h-1.67zM268.84 865.22h5.00v1.67h-5.00zM278.84 865.22h6.66v1.67h-6.66zM237.20 866.89h5.00v1.67h-5.00zM243.86 866.89h3.33v1.67h-3.33zM250.52 866.89h1.67v1.67h-1.67zM255.52 866.89h3.33v1.67h-3.33zM263.85 866.89h3.33v1.67h-3.33zM270.51 866.89h5.00v1.67h-5.00zM277.17 866.89h6.66v1.67h-6.66zM238.87 868.56h3.33v1.67h-3.33zM243.86 868.56h1.67v1.67h-1.67zM247.19 868.56h3.33v1.67h-3.33zM252.19 868.56h1.67v1.67h-1.67zM257.19 868.56h1.67v1.67h-1.67zM277.17 868.56h1.67v1.67h-1.67zM280.50 868.56h1.67v1.67h-1.67zM238.87 870.22h3.33v1.67h-3.33zM252.19 870.22h3.33v1.67h-3.33zM258.85 870.22h1.67v1.67h-1.67zM262.18 870.22h13.32v1.67h-13.32zM280.50 870.22h1.67v1.67h-1.67zM283.83 870.22h1.67v1.67h-1.67zM238.87 871.89h6.66v1.67h-6.66zM247.19 871.89h8.33v1.67h-8.33zM257.19 871.89h1.67v1.67h-1.67zM262.18 871.89h1.67v1.67h-1.67zM267.18 871.89h1.67v1.67h-1.67zM270.51 871.89h1.67v1.67h-1.67zM273.84 871.89h1.67v1.67h-1.67zM277.17 871.89h6.66v1.67h-6.66zM237.20 873.55h1.67v1.67h-1.67zM240.53 873.55h1.67v1.67h-1.67zM243.86 873.55h1.67v1.67h-1.67zM248.86 873.55h1.67v1.67h-1.67zM255.52 873.55h1.67v1.67h-1.67zM258.85 873.55h1.67v1.67h-1.67zM267.18 873.55h1.67v1.67h-1.67zM272.18 873.55h6.66v1.67h-6.66zM280.50 873.55h3.33v1.67h-3.33zM240.53 875.22h3.33v1.67h-3.33zM245.53 875.22h3.33v1.67h-3.33zM250.52 875.22h1.67v1.67h-1.67zM255.52 875.22h3.33v1.67h-3.33zM263.85 875.22h3.33v1.67h-3.33zM268.84 875.22h1.67v1.67h-1.67zM272.18 875.22h1.67v1.67h-1.67zM275.51 875.22h1.67v1.67h-1.67zM278.84 875.22h6.66v1.67h-6.66zM237.20 876.88h1.67v1.67h-1.67zM243.86 876.88h1.67v1.67h-1.67zM257.19 876.88h6.66v1.67h-6.66zM265.51 876.88h3.33v1.67h-3.33zM270.51 876.88h8.33v1.67h-8.33zM280.50 876.88h5.00v1.67h-5.00zM237.20 878.55h14.99v1.67h-14.99zM255.52 878.55h6.66v1.67h-6.66zM265.51 878.55h1.67v1.67h-1.67zM275.51 878.55h3.33v1.67h-3.33zM283.83 878.55h1.67v1.67h-1.67zM240.53 880.21h5.00v1.67h-5.00zM248.86 880.21h3.33v1.67h-3.33zM253.86 880.21h3.33v1.67h-3.33zM263.85 880.21h6.66v1.67h-6.66zM272.18 880.21h3.33v1.67h-3.33zM277.17 880.21h3.33v1.67h-3.33zM283.83 880.21h1.67v1.67h-1.67zM237.20 881.88h3.33v1.67h-3.33zM245.53 881.88h3.33v1.67h-3.33zM250.52 881.88h5.00v1.67h-5.00zM260.52 881.88h1.67v1.67h-1.67zM265.51 881.88h3.33v1.67h-3.33zM270.51 881.88h3.33v1.67h-3.33zM277.17 881.88h6.66v1.67h-6.66zM237.20 883.54h3.33v1.67h-3.33zM242.20 883.54h5.00v1.67h-5.00zM250.52 883.54h3.33v1.67h-3.33zM258.85 883.54h6.66v1.67h-6.66zM267.18 883.54h5.00v1.67h-5.00zM282.17 883.54h3.33v1.67h-3.33zM245.53 885.21h6.66v1.67h-6.66zM257.19 885.21h6.66v1.67h-6.66zM268.84 885.21h9.99v1.67h-9.99zM282.17 885.21h1.67v1.67h-1.67zM252.19 886.88h5.00v1.67h-5.00zM258.85 886.88h8.33v1.67h-8.33zM268.84 886.88h3.33v1.67h-3.33zM277.17 886.88h1.67v1.67h-1.67zM282.17 886.88h1.67v1.67h-1.67zM237.20 888.54h11.66v1.67h-11.66zM253.86 888.54h3.33v1.67h-3.33zM258.85 888.54h9.99v1.67h-9.99zM270.51 888.54h1.67v1.67h-1.67zM273.84 888.54h1.67v1.67h-1.67zM277.17 888.54h1.67v1.67h-1.67zM280.50 888.54h1.67v1.67h-1.67zM237.20 890.21h1.67v1.67h-1.67zM247.19 890.21h1.67v1.67h-1.67zM250.52 890.21h1.67v1.67h-1.67zM253.86 890.21h1.67v1.67h-1.67zM258.85 890.21h1.67v1.67h-1.67zM262.18 890.21h1.67v1.67h-1.67zM268.84 890.21h3.33v1.67h-3.33zM277.17 890.21h1.67v1.67h-1.67zM283.83 890.21h1.67v1.67h-1.67zM237.20 891.87h1.67v1.67h-1.67zM240.53 891.87h5.00v1.67h-5.00zM247.19 891.87h1.67v1.67h-1.67zM250.52 891.87h5.00v1.67h-5.00zM262.18 891.87h5.00v1.67h-5.00zM268.84 891.87h9.99v1.67h-9.99zM280.50 891.87h3.33v1.67h-3.33zM237.20 893.54h1.67v1.67h-1.67zM240.53 893.54h5.00v1.67h-5.00zM247.19 893.54h1.67v1.67h-1.67zM252.19 893.54h3.33v1.67h-3.33zM262.18 893.54h1.67v1.67h-1.67zM267.18 893.54h1.67v1.67h-1.67zM270.51 893.54h1.67v1.67h-1.67zM280.50 893.54h1.67v1.67h-1.67zM283.83 893.54h1.67v1.67h-1.67zM237.20 895.20h1.67v1.67h-1.67zM240.53 895.20h5.00v1.67h-5.00zM247.19 895.20h1.67v1.67h-1.67zM252.19 895.20h1.67v1.67h-1.67zM257.19 895.20h3.33v1.67h-3.33zM262.18 895.20h1.67v1.67h-1.67zM267.18 895.20h1.67v1.67h-1.67zM275.51 895.20h3.33v1.67h-3.33zM280.50 895.20h1.67v1.67h-1.67zM283.83 895.20h1.67v1.67h-1.67zM237.20 896.87h1.67v1.67h-1.67zM247.19 896.87h1.67v1.67h-1.67zM250.52 896.87h1.67v1.67h-1.67zM253.86 896.87h3.33v1.67h-3.33zM258.85 896.87h1.67v1.67h-1.67zM262.18 896.87h1.67v1.67h-1.67zM265.51 896.87h1.67v1.67h-1.67zM268.84 896.87h3.33v1.67h-3.33zM273.84 896.87h8.33v1.67h-8.33zM237.20 898.53h11.66v1.67h-11.66zM253.86 898.53h1.67v1.67h-1.67zM257.19 898.53h1.67v1.67h-1.67zM262.18 898.53h6.66v1.67h-6.66zM272.18 898.53h3.33v1.67h-3.33zM278.84 898.53h1.67v1.67h-1.67zM282.17 898.53h3.33v1.67h-3.33z" fill="#111"/>
<path d="M304.40 851.90h11.66v1.67h-11.66zM322.72 851.90h1.67v1.67h-1.67zM329.38 851.90h5.00v1.67h-5.00zM336.04 851.90h1.67v1.67h-1.67zM341.04 851.90h11.66v1.67h-11.66zM304.40 853.57h1.67v1.67h-1.67zM314.39 853.57h1.67v1.67h-1.67zM317.72 853.57h1.67v1.67h-1.67zM322.72 853.57h1.67v1.67h-1.67zM326.05 853.57h1.67v1.67h-1.67zM331.05 853.57h1.67v1.67h-1.67zM337.71 853.57h1.67v1.67h-1.67zM341.04 853.57h1.67v1.67h-1.67zM351.03 853.57h1.67v1.67h-1.67zM304.40 855.23h1.67v1.67h-1.67zM307.73 855.23h5.00v1.67h-5.00zM314.39 855.23h1.67v1.67h-1.67zM322.72 855.23h3.33v1.67h-3.33zM327.72 855.23h1.67v1.67h-1.67zM331.05 855.23h1.67v1.67h-1.67zM337.71 855.23h1.67v1.67h-1.67zM341.04 855.23h1.67v1.67h-1.67zM344.37 855.23h5.00v1.67h-5.00zM351.03 855.23h1.67v1.67h-1.67zM304.40 856.90h1.67v1.67h-1.67zM307.73 856.90h5.00v1.67h-5.00zM314.39 856.90h1.67v1.67h-1.67zM317.72 856.90h3.33v1.67h-3.33zM322.72 856.90h1.67v1.67h-1.67zM326.05 856.90h1.67v1.67h-1.67zM331.05 856.90h1.67v1.67h-1.67zM337.71 856.90h1.67v1.67h-1.67zM341.04 856.90h1.67v1.67h-1.67zM344.37 856.90h5.00v1.67h-5.00zM351.03 856.90h1.67v1.67h-1.67zM304.40 858.56h1.67v1.67h-1.67zM307.73 858.56h5.00v1.67h-5.00zM314.39 858.56h1.67v1.67h-1.67zM317.72 858.56h1.67v1.67h-1.67zM321.06 858.56h1.67v1.67h-1.67zM327.72 858.56h1.67v1.67h-1.67zM332.71 858.56h3.33v1.67h-3.33zM341.04 858.56h1.67v1.67h-1.67zM344.37 858.56h5.00v1.67h-5.00zM351.03 858.56h1.67v1.67h-1.67zM304.40 860.23h1.67v1.67h-1.67zM314.39 860.23h1.67v1.67h-1.67zM317.72 860.23h3.33v1.67h-3.33zM322.72 860.23h5.00v1.67h-5.00zM331.05 860.23h3.33v1.67h-3.33zM337.71 860.23h1.67v1.67h-1.67zM341.04 860.23h1.67v1.67h-1.67zM351.03 860.23h1.67v1.67h-1.67zM304.40 861.89h11.66v1.67h-11.66zM317.72 861.89h1.67v1.67h-1.67zM321.06 861.89h1.67v1.67h-1.67zM324.39 861.89h1.67v1.67h-1.67zM327.72 861.89h1.67v1.67h-1.67zM331.05 861.89h1.67v1.67h-1.67zM334.38 861.89h1.67v1.67h-1.67zM337.71 861.89h1.67v1.67h-1.67zM341.04 861.89h11.66v1.67h-11.66zM321.06 863.56h1.67v1.67h-1.67zM327.72 863.56h9.99v1.67h-9.99zM311.06 865.22h1.67v1.67h-1.67zM314.39 865.22h3.33v1.67h-3.33zM322.72 865.22h5.00v1.67h-5.00zM329.38 865.22h1.67v1.67h-1.67zM332.71 865.22h5.00v1.67h-5.00zM339.38 865.22h5.00v1.67h-5.00zM347.70 865.22h1.67v1.67h-1.67zM304.40 866.89h8.33v1.67h-8.33zM317.72 866.89h1.67v1.67h-1.67zM321.06 866.89h1.67v1.67h-1.67zM329.38 866.89h1.67v1.67h-1.67zM334.38 866.89h3.33v1.67h-3.33zM342.71 866.89h1.67v1.67h-1.67zM349.37 866.89h3.33v1.67h-3.33zM307.73 868.56h5.00v1.67h-5.00zM314.39 868.56h1.67v1.67h-1.67zM317.72 868.56h1.67v1.67h-1.67zM321.06 868.56h3.33v1.67h-3.33zM327.72 868.56h3.33v1.67h-3.33zM336.04 868.56h1.67v1.67h-1.67zM341.04 868.56h1.67v1.67h-1.67zM346.04 868.56h1.67v1.67h-1.67zM304.40 870.22h3.33v1.67h-3.33zM309.40 870.22h1.67v1.67h-1.67zM312.73 870.22h1.67v1.67h-1.67zM316.06 870.22h1.67v1.67h-1.67zM322.72 870.22h3.33v1.67h-3.33zM327.72 870.22h1.67v1.67h-1.67zM332.71 870.22h1.67v1.67h-1.67zM336.04 870.22h5.00v1.67h-5.00zM342.71 870.22h8.33v1.67h-8.33zM304.40 871.89h6.66v1.67h-6.66zM314.39 871.89h6.66v1.67h-6.66zM322.72 871.89h1.67v1.67h-1.67zM327.72 871.89h1.67v1.67h-1.67zM331.05 871.89h1.67v1.67h-1.67zM334.38 871.89h1.67v1.67h-1.67zM341.04 871.89h1.67v1.67h-1.67zM344.37 871.89h1.67v1.67h-1.67zM349.37 871.89h3.33v1.67h-3.33zM309.40 873.55h5.00v1.67h-5.00zM316.06 873.55h8.33v1.67h-8.33zM326.05 873.55h3.33v1.67h-3.33zM331.05 873.55h3.33v1.67h-3.33zM336.04 873.55h1.67v1.67h-1.67zM341.04 873.55h1.67v1.67h-1.67zM347.70 873.55h3.33v1.67h-3.33zM311.06 875.22h5.00v1.67h-5.00zM319.39 875.22h6.66v1.67h-6.66zM327.72 875.22h5.00v1.67h-5.00zM334.38 875.22h1.67v1.67h-1.67zM337.71 875.22h6.66v1.67h-6.66zM349.37 875.22h3.33v1.67h-3.33zM304.40 876.88h1.67v1.67h-1.67zM309.40 876.88h1.67v1.67h-1.67zM312.73 876.88h1.67v1.67h-1.67zM316.06 876.88h3.33v1.67h-3.33zM324.39 876.88h3.33v1.67h-3.33zM329.38 876.88h1.67v1.67h-1.67zM334.38 876.88h5.00v1.67h-5.00zM342.71 876.88h1.67v1.67h-1.67zM349.37 876.88h3.33v1.67h-3.33zM304.40 878.55h1.67v1.67h-1.67zM307.73 878.55h1.67v1.67h-1.67zM311.06 878.55h18.32v1.67h-18.32zM331.05 878.55h6.66v1.67h-6.66zM341.04 878.55h1.67v1.67h-1.67zM349.37 878.55h1.67v1.67h-1.67zM309.40 880.21h5.00v1.67h-5.00zM316.06 880.21h1.67v1.67h-1.67zM319.39 880.21h1.67v1.67h-1.67zM322.72 880.21h1.67v1.67h-1.67zM326.05 880.21h1.67v1.67h-1.67zM329.38 880.21h3.33v1.67h-3.33zM336.04 880.21h5.00v1.67h-5.00zM342.71 880.21h3.33v1.67h-3.33zM347.70 880.21h1.67v1.67h-1.67zM351.03 880.21h1.67v1.67h-1.67zM306.07 881.88h6.66v1.67h-6.66zM314.39 881.88h11.66v1.67h-11.66zM329.38 881.88h3.33v1.67h-3.33zM336.04 881.88h1.67v1.67h-1.67zM339.38 881.88h1.67v1.67h-1.67zM349.37 881.88h3.33v1.67h-3.33zM304.40 883.54h3.33v1.67h-3.33zM311.06 883.54h3.33v1.67h-3.33zM316.06 883.54h3.33v1.67h-3.33zM321.06 883.54h3.33v1.67h-3.33zM326.05 883.54h1.67v1.67h-1.67zM329.38 883.54h3.33v1.67h-3.33zM334.38 883.54h3.33v1.67h-3.33zM344.37 883.54h1.67v1.67h-1.67zM347.70 883.54h5.00v1.67h-5.00zM306.07 885.21h3.33v1.67h-3.33zM312.73 885.21h9.99v1.67h-9.99zM326.05 885.21h3.33v1.67h-3.33zM332.71 885.21h1.67v1.67h-1.67zM337.71 885.21h9.99v1.67h-9.99zM317.72 886.88h1.67v1.67h-1.67zM331.05 886.88h5.00v1.67h-5.00zM337.71 886.88h1.67v1.67h-1.67zM344.37 886.88h1.67v1.67h-1.67zM349.37 886.88h3.33v1.67h-3.33zM304.40 888.54h11.66v1.67h-11.66zM317.72 888.54h1.67v1.67h-1.67zM321.06 888.54h5.00v1.67h-5.00zM331.05 888.54h3.33v1.67h-3.33zM337.71 888.54h1.67v1.67h-1.67zM341.04 888.54h1.67v1.67h-1.67zM344.37 888.54h3.33v1.67h-3.33zM349.37 888.54h3.33v1.67h-3.33zM304.40 890.21h1.67v1.67h-1.67zM314.39 890.21h1.67v1.67h-1.67zM317.72 890.21h6.66v1.67h-6.66zM326.05 890.21h3.33v1.67h-3.33zM331.05 890.21h1.67v1.67h-1.67zM334.38 890.21h5.00v1.67h-5.00zM344.37 890.21h1.67v1.67h-1.67zM347.70 890.21h5.00v1.67h-5.00zM304.40 891.87h1.67v1.67h-1.67zM307.73 891.87h5.00v1.67h-5.00zM314.39 891.87h1.67v1.67h-1.67zM317.72 891.87h8.33v1.67h-8.33zM331.05 891.87h1.67v1.67h-1.67zM334.38 891.87h1.67v1.67h-1.67zM337.71 891.87h8.33v1.67h-8.33zM347.70 891.87h3.33v1.67h-3.33zM304.40 893.54h1.67v1.67h-1.67zM307.73 893.54h5.00v1.67h-5.00zM314.39 893.54h1.67v1.67h-1.67zM321.06 893.54h3.33v1.67h-3.33zM326.05 893.54h1.67v1.67h-1.67zM329.38 893.54h3.33v1.67h-3.33zM334.38 893.54h3.33v1.67h-3.33zM344.37 893.54h5.00v1.67h-5.00zM304.40 895.20h1.67v1.67h-1.67zM307.73 895.20h5.00v1.67h-5.00zM314.39 895.20h1.67v1.67h-1.67zM321.06 895.20h1.67v1.67h-1.67zM324.39 895.20h1.67v1.67h-1.67zM327.72 895.20h1.67v1.67h-1.67zM337.71 895.20h1.67v1.67h-1.67zM341.04 895.20h1.67v1.67h-1.67zM344.37 895.20h8.33v1.67h-8.33zM304.40 896.87h1.67v1.67h-1.67zM314.39 896.87h1.67v1.67h-1.67zM321.06 896.87h3.33v1.67h-3.33zM326.05 896.87h5.00v1.67h-5.00zM337.71 896.87h1.67v1.67h-1.67zM344.37 896.87h1.67v1.67h-1.67zM347.70 896.87h1.67v1.67h-1.67zM351.03 896.87h1.67v1.67h-1.67zM304.40 898.53h11.66v1.67h-11.66zM321.06 898.53h5.00v1.67h-5.00zM327.72 898.53h1.67v1.67h-1.67zM332.71 898.53h3.33v1.67h-3.33zM337.71 898.53h1.67v1.67h-1.67zM341.04 898.53h1.67v1.67h-1.67zM344.37 898.53h1.67v1.67h-1.67zM347.70 898.53h3.33v1.67h-3.33z" fill="#111"/>
<text x="169.4" y="840" font-family="Liberation Mono" font-weight="bold" font-size="14.5" textLength="48.6" lengthAdjust="spacingAndGlyphs" fill="#111">816611</text>
<text x="236.4" y="840" font-family="Liberation Mono" font-weight="bold" font-size="14.5" textLength="48.6" lengthAdjust="spacingAndGlyphs" fill="#111">816616</text>
<text x="303" y="840" font-family="Liberation Mono" font-weight="bold" font-size="14.5" textLength="48.6" lengthAdjust="spacingAndGlyphs" fill="#111">816617</text>
<text x="170.6" y="965" font-family="Liberation Sans" font-size="12.6" textLength="139.2" lengthAdjust="spacingAndGlyphs" fill="#1a1a1a" stroke="#1a1a1a" stroke-width="0.25">1. Светильник работает</text>
<text x="170.6" y="981.2" font-family="Liberation Sans" font-size="12.6" textLength="179.6" lengthAdjust="spacingAndGlyphs" fill="#1a1a1a" stroke="#1a1a1a" stroke-width="0.25">от сетевого напряжения 230В.</text>
<text x="170.6" y="997.4" font-family="Liberation Sans" font-size="12.6" textLength="211.7" lengthAdjust="spacingAndGlyphs" fill="#1a1a1a" stroke="#1a1a1a" stroke-width="0.25">2. Всегда выключайте напряжение,</text>
<text x="170.6" y="1013.2" font-family="Liberation Sans" font-size="12.6" textLength="204" lengthAdjust="spacingAndGlyphs" fill="#1a1a1a" stroke="#1a1a1a" stroke-width="0.25">когда устанавливаете светильник.</text>
</svg>
</body></html>
